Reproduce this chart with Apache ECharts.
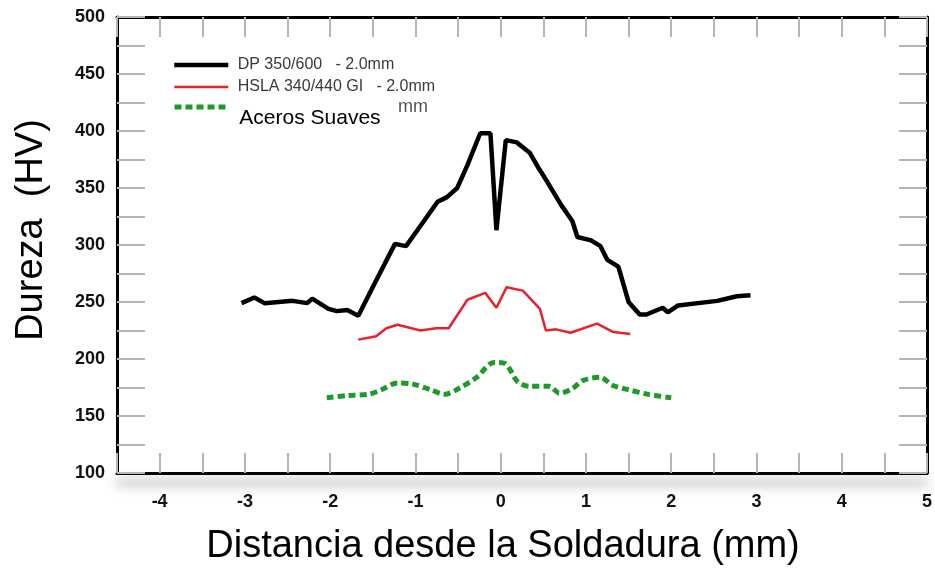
<!DOCTYPE html>
<html>
<head>
<meta charset="utf-8">
<script src="https://cdn.jsdelivr.net/npm/echarts@6/dist/echarts.min.js"></script>
<style>html,body{margin:0;padding:0;background:#fff}#c{width:935px;height:571px}</style>
</head>
<body>
<div id="c"></div>
<script>
// Data
const seriesNames = ['DP 350/600   - 2.0mm', 'HSLA 340/440 GI   - 2.0mm', 'Aceros Suaves'];
const dpX = [-3.04,-2.89,-2.77,-2.44,-2.27,-2.21,-2.02,-1.92,-1.80,-1.67,-1.48,-1.24,-1.11,-0.90,-0.74,-0.63,-0.51,-0.39,-0.24,-0.12,-0.05,0.06,0.19,0.34,0.44,0.55,0.71,0.84,0.90,1.06,1.17,1.25,1.38,1.50,1.63,1.71,1.90,1.96,2.08,2.54,2.77,2.93];
const dpY = [249,254,249,251,249,253,244,242,243,238,266,301,299,321,338,342,350,370,398,398,313,392,390,381,368,355,335,321,307,304,299,287,281,250,239,239,245,241,247,251,255,256];
const hslaX = [-1.67,-1.46,-1.34,-1.21,-0.94,-0.76,-0.61,-0.39,-0.18,-0.05,0.07,0.26,0.46,0.53,0.65,0.82,1.13,1.31,1.40,1.52];
const hslaY = [217,220,227,230,225,227,227,252,258,245,263,260,244,225,226,223,231,224,223,222];
const suaveX = [-2.04,-1.79,-1.55,-1.40,-1.21,-1.03,-0.82,-0.66,-0.47,-0.28,-0.08,0.05,0.20,0.34,0.57,0.69,0.84,0.96,1.17,1.31,1.50,1.73,2.00];
const suaveY = [166,168,169,173,179,178,173,169,175,184,197,196,180,176,176,170,174,181,184,177,173,169,166];
const xMin = -4.5, xMax = 5, xStep = 0.5;
const yMin = 100, yMax = 500, yStep = 25;

const zip = (a, b) => a.map((v, i) => [v, b[i]]);
const chart = echarts.init(document.getElementById('c'));
const FONT = '"Liberation Sans", Arial, sans-serif';
const tickX = {show: true, inside: true, length: 20, lineStyle: {color: '#b5b5b5', width: 2}};
const tickY = {show: true, inside: true, length: 28, lineStyle: {color: '#b5b5b5', width: 2}};
const border = {show: true, onZero: false, lineStyle: {color: '#000', width: 3}};
const legendCommon = {
  orient: 'vertical', left: 172, padding: 0, itemWidth: 54, itemHeight: 14, itemGap: 4,
  itemStyle: {opacity: 0},
  lineStyle: {width: 'inherit', type: 'inherit'}
};

chart.setOption({
  animation: false,
  backgroundColor: '#fff',
  grid: {left: 117, right: 2, top: 17, bottom: 94, containLabel: false},
  legend: [
    Object.assign({}, legendCommon, {
      top: 56,
      data: [seriesNames[0], seriesNames[1]],
      formatter: n => ' ' + n,
      textStyle: {fontFamily: FONT, fontSize: 16, lineHeight: 18, color: '#3a3a3a'}
    }),
    Object.assign({}, legendCommon, {
      top: 85,
      data: [seriesNames[2]],
      formatter: n => '\n ' + n,
      textStyle: {fontFamily: FONT, fontSize: 21, lineHeight: 22, color: '#000'}
    })
  ],
  xAxis: [
    {type: 'value', min: xMin, max: xMax, interval: xStep, position: 'bottom',
     axisLine: {show: true, onZero: false, lineStyle: {color: '#000', width: 3, shadowColor: 'rgba(0,0,0,0.55)', shadowBlur: 12, shadowOffsetY: 9}},
     axisTick: tickX, splitLine: {show: false},
     axisLabel: {margin: 20, fontFamily: FONT, fontWeight: 'bold', fontSize: 18, color: '#111',
       formatter: v => (Math.abs(v - Math.round(v)) < 1e-9 && v > xMin) ? String(Math.round(v)) : ''},
     name: 'Distancia desde la Soldadura (mm)', nameLocation: 'middle', nameGap: 55,
     nameTextStyle: {fontFamily: FONT, fontSize: 38, color: '#000', padding: [0, 38, 0, 0]}},
    {type: 'value', min: xMin, max: xMax, interval: xStep, position: 'top',
     axisLine: border, axisTick: tickX, axisLabel: {show: false}, splitLine: {show: false}}
  ],
  yAxis: [
    {type: 'value', min: yMin, max: yMax, interval: yStep, position: 'left',
     axisLine: {show: true, onZero: false, lineStyle: {color: '#000', width: 3}},
     axisTick: tickY, splitLine: {show: false},
     axisLabel: {margin: 12, fontFamily: FONT, fontWeight: 'bold', fontSize: 18, color: '#111',
       formatter: v => (v % 50 === 0) ? String(v) : ''},
     name: 'Dureza  (HV)', nameLocation: 'middle', nameGap: 66, nameRotate: 90,
     nameTextStyle: {fontFamily: FONT, fontSize: 38, color: '#000', padding: [0, 0, 0, 30]}},
    {type: 'value', min: yMin, max: yMax, interval: yStep, position: 'right',
     axisLine: border, axisTick: tickY, axisLabel: {show: false}, splitLine: {show: false}}
  ],
  graphic: [
    {type: 'text', left: 398, top: 98, style: {text: 'mm', font: '18px "Liberation Sans", Arial, sans-serif', fill: '#555'}}
  ],
  series: [
    {name: seriesNames[0], type: 'line', data: zip(dpX, dpY), symbol: 'none',
     lineStyle: {color: '#000', width: 4.5}, itemStyle: {color: '#000'}},
    {name: seriesNames[1], type: 'line', data: zip(hslaX, hslaY), symbol: 'none',
     lineStyle: {color: '#e8222a', width: 2.5}, itemStyle: {color: '#e8222a'}},
    {name: seriesNames[2], type: 'line', data: zip(suaveX, suaveY), symbol: 'none', smooth: 0.3,
     lineStyle: {color: '#1f9a2a', width: 5, type: [7, 4]}, itemStyle: {color: '#1f9a2a'}}
  ]
});
</script>
</body>
</html>
